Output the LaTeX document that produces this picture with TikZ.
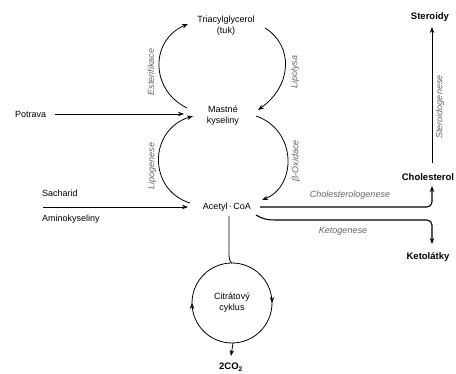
\documentclass[tikz,border=0pt]{standalone}
\usepackage{fontspec}
\setmainfont{Liberation Sans}
\usetikzlibrary{arrows.meta,decorations.markings}
\begin{document}
\begin{tikzpicture}[x=1pt,y=-1pt,
  txt/.style={font=\fontsize{9}{11}\selectfont, inner sep=0pt, align=center},
  bld/.style={font=\fontsize{9.5}{11}\selectfont\bfseries, inner sep=0pt},
  lbl/.style={font=\fontsize{9}{11}\selectfont\itshape, text=black!60, inner sep=0pt},
  tip/.style={-{Stealth[length=6pt,width=4.5pt]}},
  conn/.style={line width=0.8pt, tip},
  thick conn/.style={line width=1.1pt, tip},
  midarrow/.style={decoration={markings, mark=at position 0.5 with {\arrow{Stealth[length=6pt,width=4.5pt]}}}, postaction=decorate},
]
\useasboundingbox[fill=white] (0,0) rectangle (456,374);

% nodes
\node[txt] (tag) at (226,26) {Triacylglycerol\\(tuk)};
\node[txt] (mk) at (223,116) {Mastné\\kyseliny};
\node[txt] (acoa) at (227,207) {Acetyl\,·\,CoA};
\node[txt, anchor=west] (potrava) at (15,114) {Potrava};
\node[txt, anchor=west] (sach) at (42,193) {Sacharid};
\node[txt, anchor=west] (amino) at (42,219) {Aminokyseliny};
\node[bld] (ster) at (430,17) {Steroidy};
\node[bld] (chol) at (428,177) {Cholesterol};
\node[bld] (keto) at (428,257) {Ketolátky};
\node[txt] (cit) at (232,303) {Citrátový\\cyklus};
\node[bld] (co2) at (231,367) {2CO\textsubscript{2}};

% labels
\node[lbl, rotate=90] (l1) at (151,72) {Esterifikace};
\node[lbl, rotate=90] (l2) at (295,72) {Lipolysa};
\node[lbl, rotate=90] (l3) at (152,166) {Lipogenese};
\node[lbl, rotate=90] (l4) at (296,161) {β-Oxidace};
\node[lbl, rotate=90] (l5) at (440,107) {Steroidogenese};
\node[lbl] (l6) at (350,195) {Cholesterologenese};
\node[lbl] (l7) at (343,231) {Ketogenese};

% coordinates
\coordinate (ul1) at (187,108);
\coordinate (ul2) at (188,24);
\coordinate (ur1) at (265,28);
\coordinate (ur2) at (258,110);
\coordinate (ll1) at (190,203);
\coordinate (ll2) at (193,116);
\coordinate (lr1) at (256,116);
\coordinate (lr2) at (262,200);
\coordinate (pa) at (55,114);
\coordinate (pb) at (184,114);
\coordinate (sa) at (43,207);
\coordinate (sb) at (188,207);
\coordinate (ca) at (260,207);
\coordinate (cb) at (432,186);
\coordinate (ka) at (256,215);
\coordinate (kb) at (432,244);
\coordinate (sta) at (432,163);
\coordinate (stb) at (432,27);
\coordinate (cc) at (232,303);

% arcs
\draw[conn] (ul1) .. controls (150,90) and (150,40) .. (ul2);
\draw[conn] (ur1) .. controls (293,45) and (293,85) .. (ur2);
\draw[conn] (ll1) .. controls (148,190) and (148,130) .. (ll2);
\draw[conn] (lr1) .. controls (297,130) and (297,186) .. (lr2);

% straight
\draw[conn] (pa) -- (pb);
\draw[conn] (sa) -- (sb);
\draw[thick conn, rounded corners=5pt] (ca) -- (432,207) -- (cb);
\draw[thick conn, rounded corners=5pt] (ka) .. controls (262,219) and (268,220) .. (280,220) -- (432,220) -- (kb);
\draw[conn] (sta) -- (stb);

% citrate cycle
\draw[line width=0.8pt] (229,216) -- (229,254) .. controls (229,259) and (230,262) .. (232,263);
\draw[line width=0.8pt, midarrow] (232,263) arc[start angle=-90, end angle=90, radius=40];
\draw[line width=0.8pt, midarrow] (232,343) arc[start angle=90, end angle=270, radius=40];
\draw[conn] (233,343) -- (231,356);
\end{tikzpicture}
\end{document}
